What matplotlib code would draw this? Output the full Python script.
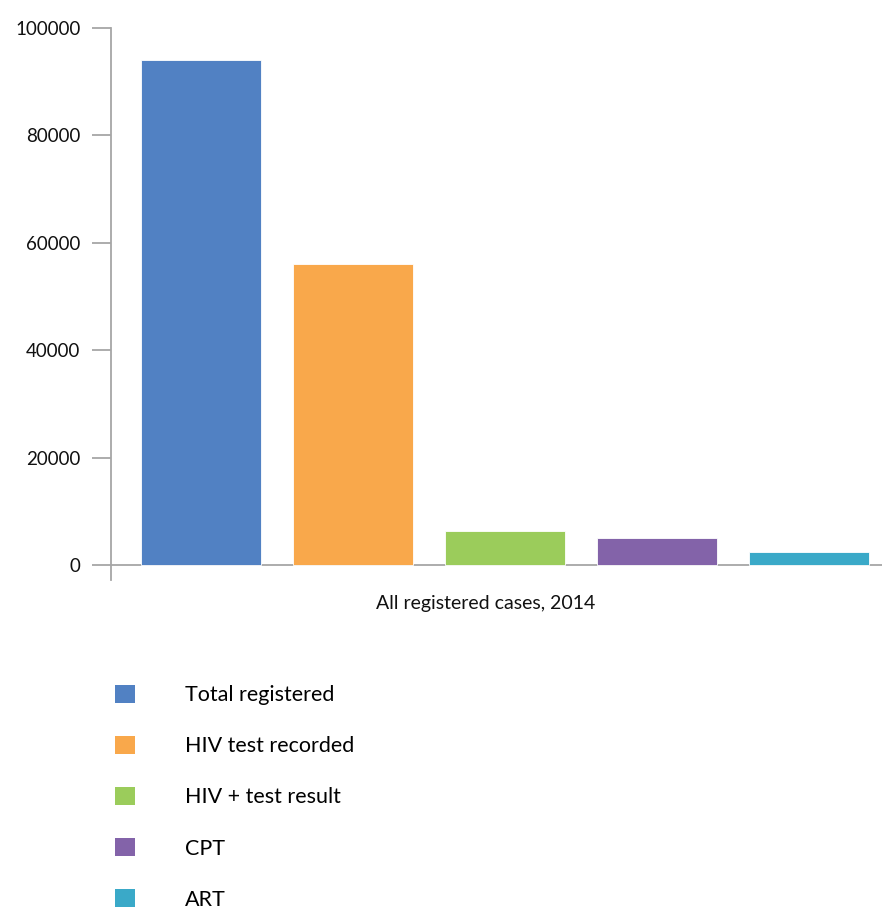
import matplotlib
matplotlib.use("Agg")
import matplotlib.pyplot as plt
from matplotlib.patches import Patch
import numpy as np

series = ["Total registered", "HIV test recorded", "HIV + test result", "CPT", "ART"]
values = [94000, 56000, 6300, 5000, 2400]
colors = ["#5181C3", "#F9A84B", "#9BCC5B", "#8363A9", "#3AA9C8"]
category = "All registered cases, 2014"
yticks = [0, 20000, 40000, 60000, 80000, 100000]

plt.rcParams["font.family"] = ["Lato", "DejaVu Sans"]

fig = plt.figure(figsize=(8.84, 9.11), dpi=100)
ax = fig.add_axes([111 / 884, 331 / 911, 771 / 884, 552 / 911])

x = np.arange(len(series))
ax.bar(x, values, width=0.79, color=colors, edgecolor="white", linewidth=0.6, zorder=2)

ax.set_xlim(-0.589, 4.48)
ax.set_ylim(-2800, 100000)
ax.set_yticks(yticks)
ax.set_yticklabels([str(t) for t in yticks], fontsize=13.5, color="#111111")
ax.set_xticks([])

grey = "#A6A6A6"
for s in ["top", "right", "bottom"]:
    ax.spines[s].set_visible(False)
ax.spines["left"].set_color(grey)
ax.spines["left"].set_linewidth(1.3)
ax.tick_params(axis="y", direction="out", length=14, width=1.3, color=grey, pad=8)
ax.axhline(0, color=grey, linewidth=1.3, zorder=1)

fig.text(486 / 884, 1 - 604 / 911, category, ha="center", va="center", fontsize=14, color="#111111")

handles = [Patch(facecolor=c, edgecolor="none") for c in colors]
fig.legend(handles, series, loc="upper left", bbox_to_anchor=(106 / 884, 1 - 676 / 911),
           frameon=False, fontsize=15.5, handlelength=0.93, handleheight=0.93,
           handletextpad=2.35, labelspacing=1.42, borderaxespad=0)

fig.savefig("out.png", dpi=100)
